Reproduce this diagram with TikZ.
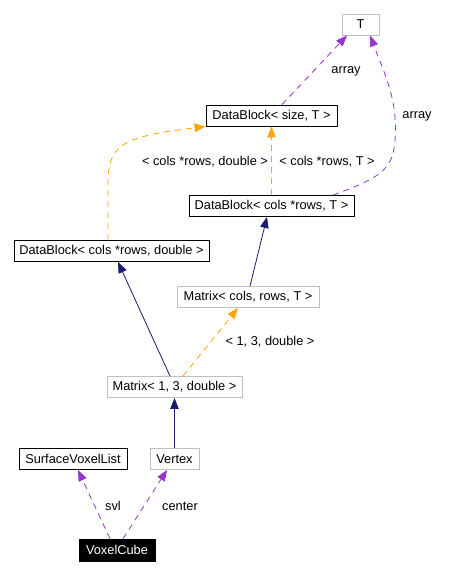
\documentclass[tikz,border=0pt]{standalone}
\usepackage{fontspec}
\setmainfont{Liberation Sans}
\usetikzlibrary{arrows.meta,calc}
\definecolor{edgepurple}{HTML}{9A32CD}
\definecolor{edgeorange}{HTML}{FFA500}
\definecolor{edgenavy}{HTML}{191970}
\definecolor{boxgray}{HTML}{BFBFBF}
\begin{document}
\begin{tikzpicture}[x=1pt,y=-1pt,
  font=\fontsize{12.8}{15}\selectfont,
  cls/.style={draw=black, line width=0.9pt, inner sep=0pt, minimum height=21pt, text=black},
  tmpl/.style={draw=boxgray, line width=0.9pt, inner sep=0pt, minimum height=21pt, text=black},
  rootcls/.style={fill=black, draw=black, inner sep=0pt, minimum height=22pt, text=white},
  lbl/.style={inner sep=0pt, text=black},
  tip/.style={-{Triangle[length=11pt,width=8.5pt]}},
  usage/.style={tip, edgepurple, line width=0.8pt, dash pattern=on 6pt off 5pt},
  inst/.style={tip, edgeorange, line width=0.8pt, dash pattern=on 6pt off 5pt},
  inherit/.style={tip, edgenavy, line width=0.8pt}]
\useasboundingbox[fill=white] (0,0) rectangle (473,574);

\node[tmpl, minimum width=37pt] (T) at (360.5,24.5) {T};
\node[cls, minimum width=131pt] (DBsT) at (271.5,115.5) {DataBlock< size, T >};
\node[cls, minimum width=165pt] (DBcrT) at (271.5,206) {DataBlock< cols *rows, T >};
\node[cls, minimum width=195pt] (DBcrd) at (111.5,251) {DataBlock< cols *rows, double >};
\node[tmpl, minimum width=142pt] (MatCRT) at (248,297) {Matrix< cols, rows, T >};
\node[tmpl, minimum width=135pt] (Mat13d) at (174.5,387) {Matrix< 1, 3, double >};
\node[cls, minimum width=108pt] (SVL) at (73,459) {SurfaceVoxelList};
\node[tmpl, minimum width=49pt] (Vertex) at (174.5,459) {Vertex};
\node[rootcls, minimum width=76pt] (VC) at (117,550) {VoxelCube};

% usage edges
\draw[usage] ([xshift=10.5pt]DBsT.north) -- ([xshift=-13.5pt]T.south);
\draw[usage] ([xshift=61.5pt]DBcrT.north) .. controls (380,178) and (393,170) .. (395,140)
  .. controls (398,100) and (385,75) .. ([xshift=9.5pt]T.south);
\draw[usage] ([xshift=-7pt]VC.north) -- ([xshift=5pt]SVL.south);
\draw[usage] ([xshift=6pt]VC.north) -- ([xshift=-7.5pt]Vertex.south);

% template instantiation edges
\draw[inst] (DBcrT.north) -- (DBsT.south);
\draw[inst] ([xshift=-3.5pt]DBcrd.north) -- (108,185) .. controls (108,145) and (120,137) .. (DBsT.south west);
\draw[inst] ([xshift=8.5pt]Mat13d.north) -- ([xshift=-10pt]MatCRT.south);

% inheritance edges
\draw[inherit] ([xshift=-4.5pt]Mat13d.north) -- ([xshift=6.5pt]DBcrd.south);
\draw[inherit] ([xshift=2pt]MatCRT.north) -- ([xshift=-4.5pt]DBcrT.south);
\draw[inherit] (Vertex.north) -- (Mat13d.south);

% labels
\node[lbl] (l1) at (346,71) {array};
\node[lbl] (l2) at (417,116) {array};
\node[lbl] (l3) at (327,162) {< cols *rows, T >};
\node[lbl] (l4) at (205,162) {< cols *rows, double >};
\node[lbl] (l5) at (270,342) {< 1, 3, double >};
\node[lbl] (l6) at (113,506) {svl};
\node[lbl] (l7) at (180,506) {center};
\end{tikzpicture}
\end{document}
